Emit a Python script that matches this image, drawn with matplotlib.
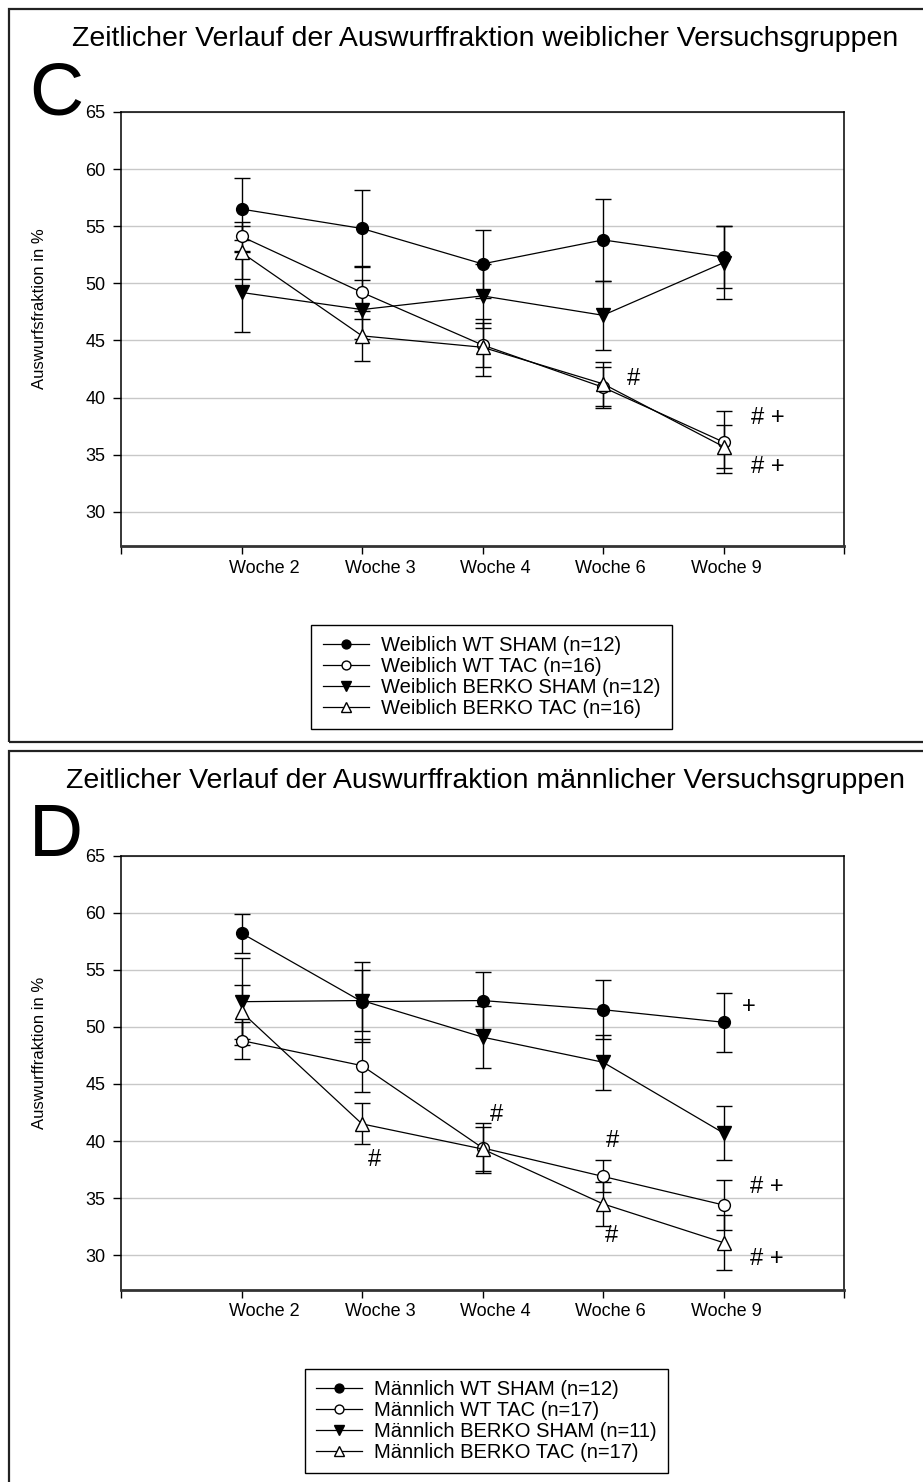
import matplotlib
matplotlib.use("Agg")
import matplotlib.pyplot as plt
import matplotlib.transforms as mtransforms
from matplotlib.lines import Line2D
from matplotlib.patches import Rectangle
import numpy as np

plt.rcParams['font.family'] = ['Liberation Sans', 'DejaVu Sans']

weeks = ["Woche 2", "Woche 3", "Woche 4", "Woche 6", "Woche 9"]

# weibliche Gruppen (Mittelwert, SEM)
f_wt_sham = [56.5, 54.8, 51.7, 53.8, 52.3]
f_wt_sham_err = [2.7, 3.4, 3.0, 3.6, 2.7]
f_wt_tac = [54.1, 49.2, 44.6, 40.9, 36.1]
f_wt_tac_err = [1.3, 2.3, 1.9, 1.8, 2.7]
f_berko_sham = [49.2, 47.7, 48.9, 47.2, 51.8]
f_berko_sham_err = [3.5, 2.6, 2.8, 3.0, 3.2]
f_berko_tac = [52.7, 45.4, 44.4, 41.2, 35.7]
f_berko_tac_err = [2.3, 2.2, 2.5, 1.95, 1.9]

# maennliche Gruppen
m_wt_sham = [58.2, 52.2, 52.3, 51.5, 50.4]
m_wt_sham_err = [1.7, 3.5, 2.5, 2.6, 2.6]
m_wt_tac = [48.8, 46.6, 39.4, 36.9, 34.4]
m_wt_tac_err = [1.6, 2.3, 2.2, 1.4, 2.2]
m_berko_sham = [52.2, 52.3, 49.1, 46.9, 40.7]
m_berko_sham_err = [3.8, 2.7, 2.7, 2.4, 2.4]
m_berko_tac = [51.3, 41.5, 39.3, 34.5, 31.1]
m_berko_tac_err = [2.4, 1.8, 1.9, 1.9, 2.4]

f_labels = ["Weiblich WT SHAM (n=12)", "Weiblich WT TAC (n=16)",
            "Weiblich BERKO SHAM (n=12)", "Weiblich BERKO TAC (n=16)"]
m_labels = ["Männlich WT SHAM (n=12)", "Männlich WT TAC (n=17)",
            "Männlich BERKO SHAM (n=11)", "Männlich BERKO TAC (n=17)"]

# Signifikanz-Markierungen: (text, x, y)
f_marks = [("#", 3.25, 41.6), ("# +", 4.37, 38.2), ("# +", 4.37, 33.9)]
m_marks = [("+", 4.21, 51.7), ("#", 1.10, 38.3), ("#", 2.12, 42.3),
           ("#", 3.08, 40.0), ("#", 3.07, 31.7),
           ("# +", 4.36, 36.0), ("# +", 4.36, 29.7)]

styles = [dict(marker="o", mfc="black", ms=8.5),
          dict(marker="o", mfc="white", ms=8.5),
          dict(marker="v", mfc="black", ms=9.5),
          dict(marker="^", mfc="white", ms=9.5)]

# SigmaPlot setzt die Wochen-Beschriftung leicht nach rechts versetzt (px)
label_shift_px = [23, 18, 13, 7, 3]

W, H = 923, 1482
fig = plt.figure(figsize=(W / 100, H / 100), dpi=100)


def fx(px):
    return px / W


def fy(py):
    return 1 - py / H


def panel(top, series, labels, marks, title, letter, ylabel, frame_top, frame_bot, leg_center):
    ax = fig.add_axes([fx(121), fy(top + 434), fx(844) - fx(121), 434 / H])
    x = np.arange(len(weeks))
    handles = []
    for (vals, errs), st, lab in zip(series, styles, labels):
        ax.errorbar(x, vals, yerr=errs, color="black", lw=0.9,
                    elinewidth=1.0, capsize=5.5, capthick=1.0,
                    marker=st["marker"], ms=st["ms"], mfc=st["mfc"],
                    mec="black", mew=1.0)
        handles.append(Line2D([], [], color="black", lw=0.9, marker=st["marker"],
                              ms=st["ms"] * 0.75, mfc=st["mfc"], mec="black",
                              mew=1.0, label=lab))
    ax.set_xlim(-1, 5)
    ax.set_ylim(27, 65)
    ax.set_yticks(np.arange(30, 66, 5))
    ax.set_xticks(np.arange(-1, 6))
    ax.set_xticklabels([""] + weeks + [""])
    ax.tick_params(axis="both", direction="out", length=6, width=1,
                   labelsize=13, pad=4)
    ax.tick_params(axis="y", pad=5)
    for lbl, dx in zip(ax.get_xticklabels()[1:-1], label_shift_px):
        lbl.set_transform(lbl.get_transform() +
                          mtransforms.ScaledTranslation(dx / 100, 0, fig.dpi_scale_trans))
    ax.yaxis.grid(True, color="#c8c8c8", lw=1)
    ax.set_axisbelow(True)
    for s in ["left", "top", "right"]:
        ax.spines[s].set_linewidth(1.1)
    ax.spines["bottom"].set_linewidth(2)
    ax.spines["bottom"].set_color("#333333")
    ax.set_ylabel(ylabel, fontsize=12)
    ax.yaxis.set_label_coords(-0.102, 0.546)
    for txt, tx, ty in marks:
        ax.text(tx, ty, txt, ha="center", va="center", fontsize=17)

    fig.text(fx(485), fy(frame_top + 30), title, ha="center", va="center", fontsize=20.5)
    fig.text(fx(29), fy(frame_top + 86), letter, ha="left", va="center", fontsize=54)

    ax.legend(handles=handles, loc="center", bbox_to_anchor=leg_center,
              bbox_transform=fig.transFigure, fontsize=14.5, frameon=True,
              fancybox=False, edgecolor="black", framealpha=1,
              handlelength=2.3, handletextpad=0.6, labelspacing=0.1,
              borderpad=0.55, borderaxespad=0)
    fig.patches.append(Rectangle((fx(9), fy(frame_bot)), 1.2, (frame_bot - frame_top) / H,
                                 transform=fig.transFigure, fill=False,
                                 lw=1.6, edgecolor="#222222"))
    return ax


f_series = list(zip([f_wt_sham, f_wt_tac, f_berko_sham, f_berko_tac],
                    [f_wt_sham_err, f_wt_tac_err, f_berko_sham_err, f_berko_tac_err]))
m_series = list(zip([m_wt_sham, m_wt_tac, m_berko_sham, m_berko_tac],
                    [m_wt_sham_err, m_wt_tac_err, m_berko_sham_err, m_berko_tac_err]))

panel(112, f_series, f_labels, f_marks,
      "Zeitlicher Verlauf der Auswurffraktion weiblicher Versuchsgruppen",
      "C", "Auswurfsfraktion in %", 9, 742, (fx(491.5), fy(677)))
panel(855.5, m_series, m_labels, m_marks,
      "Zeitlicher Verlauf der Auswurffraktion männlicher Versuchsgruppen",
      "D", "Auswurffraktion in %", 751, 1500, (fx(486.5), fy(1421)))

fig.savefig("out.png", dpi=100)
